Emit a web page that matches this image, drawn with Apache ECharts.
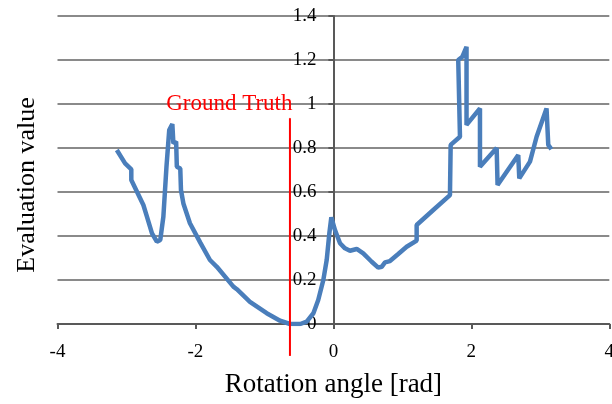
<!DOCTYPE html>
<html>
<head>
<meta charset="utf-8">
<script src="https://cdn.jsdelivr.net/npm/echarts@6/dist/echarts.min.js"></script>
<style>
html,body{margin:0;padding:0;background:#fff;}
#chart{width:612px;height:404px;}
</style>
</head>
<body>
<div id="chart"></div>
<script>
// Rotation angle [rad] (x) and evaluation value (y)
const angle = [
  -3.14, -3.02, -2.93, -2.93, -2.755, -2.73, -2.71, -2.63, -2.56, -2.51, -2.465,
  -2.42, -2.38, -2.335, -2.32, -2.28, -2.27, -2.22, -2.21, -2.175, -2.08, -1.93,
  -1.79, -1.69, -1.45, -1.40, -1.21, -0.967, -0.774, -0.63, -0.48, -0.387, -0.29,
  -0.22, -0.146, -0.097, -0.059, -0.03, 0.023, 0.096, 0.168, 0.24, 0.338, 0.433,
  0.555, 0.65, 0.70, 0.748, 0.82, 0.94, 1.062, 1.207, 1.207, 1.448, 1.69,
  1.69, 1.70, 1.835, 1.81, 1.87, 1.93, 1.93, 2.125, 2.125, 2.367, 2.38,
  2.68, 2.695, 2.85, 2.946, 3.09, 3.115, 3.16
];
const evalValue = [
  0.791, 0.73, 0.703, 0.655, 0.541, 0.541, 0.495, 0.412, 0.374, 0.382, 0.488,
  0.715, 0.882, 0.909, 0.821, 0.829, 0.715, 0.707, 0.609, 0.548, 0.458, 0.37,
  0.291, 0.26, 0.17, 0.158, 0.101, 0.049, 0.015, 0.0, 0.0, 0.011, 0.049,
  0.109, 0.2, 0.291, 0.412, 0.485, 0.427, 0.367, 0.344, 0.333, 0.341, 0.321,
  0.283, 0.256, 0.26, 0.28, 0.286, 0.318, 0.351, 0.379, 0.45, 0.518, 0.586,
  0.594, 0.814, 0.851, 1.2, 1.215, 1.26, 0.905, 0.98, 0.715, 0.80, 0.632,
  0.768, 0.662, 0.738, 0.851, 0.98, 0.814, 0.794
];
// Ground truth marker
const gtAngle = [-0.63, -0.63];
const gtValue = [0.935, -0.145];
const gtLabel = 'Ground Truth';
// Axis ticks
const xTicks = [-4, -2, 0, 2, 4];
const yTicks = [0, 0.2, 0.4, 0.6, 0.8, 1, 1.2, 1.4];

const serif = "'Liberation Serif', 'Times New Roman', serif";
const curve = angle.map((a, i) => [a, evalValue[i]]);
const gt = gtAngle.map((a, i) => [a, gtValue[i]]);

const gridLeft = 57.5, gridRight = 2.7;
const plotWidth = 612 - gridLeft - gridRight;
const xMin = xTicks[0], xMax = xTicks[xTicks.length - 1];
// distance of x = 0 from the left edge of the plot, so the y axis sits on x = 0
const zeroOffset = plotWidth * (0 - xMin) / (xMax - xMin);

const chart = echarts.init(document.getElementById('chart'));
chart.setOption({
  animation: false,
  backgroundColor: '#fff',
  grid: { left: gridLeft, right: gridRight, top: 16, bottom: 80, outerBoundsMode: 'none', containLabel: false },
  xAxis: {
    type: 'value',
    min: xMin, max: xMax, interval: 2,
    name: 'Rotation angle [rad]',
    nameLocation: 'middle',
    nameGap: 47,
    nameTextStyle: { fontFamily: serif, fontSize: 27, color: '#000' },
    axisLine: { onZero: false, lineStyle: { color: '#595959', width: 2 } },
    axisTick: { show: true, length: 5, lineStyle: { color: '#595959', width: 2 } },
    axisLabel: { fontFamily: serif, fontSize: 19, color: '#000', margin: 19 },
    splitLine: { show: false }
  },
  yAxis: {
    type: 'value',
    position: 'left',
    offset: -zeroOffset,
    min: yTicks[0], max: yTicks[yTicks.length - 1], interval: 0.2,
    axisLine: { show: true, onZero: false, lineStyle: { color: '#595959', width: 2 } },
    axisTick: { show: true, length: 5, lineStyle: { color: '#595959', width: 2 } },
    axisLabel: { fontFamily: serif, fontSize: 19, color: '#000', margin: 17 },
    splitLine: { show: true, lineStyle: { color: '#8a8a8a', width: 2 } }
  },
  graphic: [{
    type: 'text',
    x: 27, y: 185,
    rotation: Math.PI / 2,
    style: {
      text: 'Evaluation value',
      font: "26px 'Liberation Serif', 'Times New Roman', serif",
      fill: '#000',
      textAlign: 'center',
      textVerticalAlign: 'middle'
    }
  }],
  series: [
    {
      type: 'line',
      data: curve,
      showSymbol: false,
      symbol: 'none',
      lineStyle: { color: '#4a7ebb', width: 4.5 },
      z: 3
    },
    {
      type: 'line',
      clip: false,
      data: gt.map((p, i) => i === 0 ? {
        value: p,
        symbol: 'circle', symbolSize: 1,
        label: {
          show: true, formatter: gtLabel, position: [3, -2],
          align: 'right', verticalAlign: 'bottom',
          color: '#ff0000', fontFamily: serif, fontSize: 23
        }
      } : { value: p, symbol: 'none' }),
      showSymbol: true,
      itemStyle: { color: '#ff0000' },
      lineStyle: { color: '#ff0000', width: 2 },
      z: 4
    }
  ]
});
</script>
</body>
</html>
